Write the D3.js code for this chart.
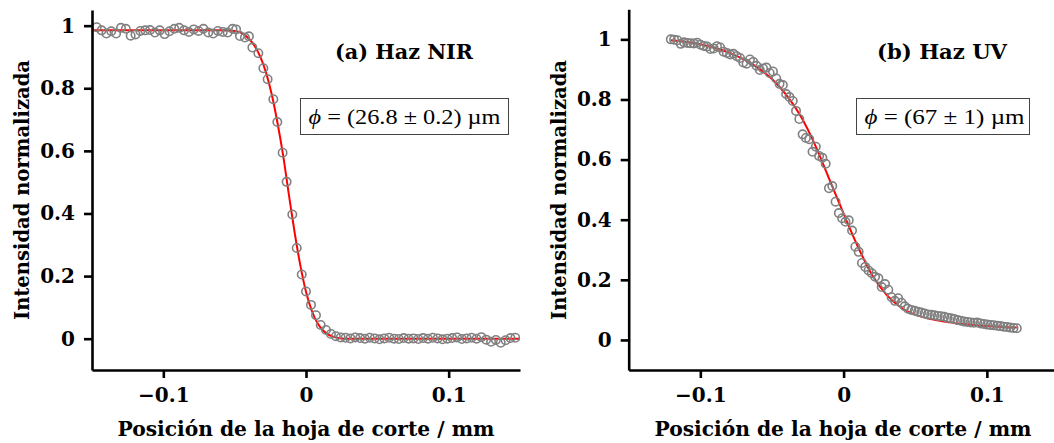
<!DOCTYPE html>
<html lang="es">
<head>
<meta charset="UTF-8">
<title>Perfil del haz - hoja de corte</title>
<script src="https://cdn.jsdelivr.net/npm/d3@7"></script>
<style>
  body { margin: 0; background: #fff; }
  svg { display: block; }
  .tick text, .axis-label, .panel-title {
    font-family: "DejaVu Serif", serif;
    font-weight: bold;
    fill: #000;
  }
</style>
</head>
<body>
<script>
// --- haz NIR (a) ---
const nirX = [
  -0.1467, -0.1433, -0.1399, -0.1365, -0.1331, -0.1297, -0.1263, -0.1229, -0.1195, -0.1161,
  -0.1127, -0.1093, -0.1059, -0.1025, -0.0991, -0.0957, -0.0923, -0.0889, -0.0855, -0.0821,
  -0.0787, -0.0753, -0.0719, -0.0685, -0.0651, -0.0617, -0.0583, -0.0549, -0.0515,
  -0.0490, -0.0463, -0.0428, -0.0400,
  -0.0376, -0.0334, -0.0299, -0.0269, -0.0229, -0.0201, -0.0164, -0.0136, -0.0096, -0.0065,
  -0.0030, 0.0000, 0.0035, 0.0070, 0.0103, 0.0140,
  0.0175, 0.0209, 0.0243, 0.0277, 0.0311, 0.0345, 0.0379, 0.0413, 0.0447, 0.0481,
  0.0515, 0.0549, 0.0583, 0.0617, 0.0651, 0.0685, 0.0719, 0.0753, 0.0787, 0.0821,
  0.0855, 0.0889, 0.0923, 0.0957, 0.0991, 0.1025, 0.1059, 0.1093, 0.1127, 0.1161,
  0.1195, 0.1229, 0.1263, 0.1297, 0.1331, 0.1365, 0.1399, 0.1433, 0.1467
];
const nirY = [
  0.995, 0.985, 0.975, 0.982, 0.975, 0.993, 0.990, 0.968, 0.972, 0.983,
  0.985, 0.986, 0.978, 0.985, 0.973, 0.982, 0.990, 0.993, 0.985, 0.980,
  0.988, 0.983, 0.990, 0.978, 0.975, 0.983, 0.980, 0.978, 0.990,
  0.988, 0.967, 0.962, 0.966,
  0.930, 0.912, 0.864, 0.829, 0.765, 0.692, 0.594, 0.501, 0.397, 0.290,
  0.205, 0.151, 0.108, 0.075, 0.044, 0.028,
  0.015, 0.008, 0.004, 0.003, 0.001, 0.004, 0.002, 0.000, 0.003, 0.001,
  -0.002, 0.001, 0.003, 0.000, -0.001, 0.002, 0.000, 0.001, -0.001, 0.002,
  0.000, 0.003, 0.001, -0.002, 0.000, 0.002, 0.004, -0.001, 0.001, 0.003,
  0.000, 0.005, -0.003, -0.010, -0.004, -0.013, -0.005, 0.002, 0.003
];
const nirFitX = [-0.15, -0.06, -0.05, -0.045, -0.04, -0.036, -0.032, -0.028, -0.024, -0.02,
  -0.016, -0.012, -0.008, -0.004, 0, 0.004, 0.008, 0.012, 0.016, 0.02, 0.025, 0.03, 0.15];
const nirFitY = [0.985, 0.985, 0.983, 0.976, 0.958, 0.935, 0.900, 0.850, 0.780, 0.690,
  0.585, 0.460, 0.340, 0.235, 0.150, 0.090, 0.050, 0.026, 0.012, 0.005, 0.001, 0.000, 0.000];

// --- haz UV (b) ---
const uvX = [
  -0.1206, -0.1183, -0.1160, -0.1137, -0.1114, -0.1091, -0.1068, -0.1045, -0.1022, -0.0999,
  -0.0976, -0.0953, -0.0930, -0.0907, -0.0884, -0.0861, -0.0838, -0.0815, -0.0792, -0.0769,
  -0.0746, -0.0723, -0.0700, -0.0677, -0.0654, -0.0631, -0.0608, -0.0585, -0.0562, -0.0539,
  -0.0516, -0.0493, -0.0470, -0.0447, -0.0424, -0.0401, -0.0378, -0.0355, -0.0332, -0.0309,
  -0.0286, -0.0263, -0.0240, -0.0217, -0.0194, -0.0171, -0.0148, -0.0125, -0.0102, -0.0079,
  -0.0056, -0.0033, -0.0010, 0.0013, 0.0036, 0.0059, 0.0082, 0.0105, 0.0128, 0.0151,
  0.0174, 0.0197, 0.0220, 0.0243, 0.0266, 0.0289, 0.0312, 0.0335, 0.0358, 0.0381,
  0.0404, 0.0427, 0.0450, 0.0473, 0.0496, 0.0519, 0.0542, 0.0565, 0.0588, 0.0611,
  0.0634, 0.0657, 0.0680, 0.0703, 0.0726, 0.0749, 0.0772, 0.0795, 0.0818, 0.0841,
  0.0864, 0.0887, 0.0910, 0.0933, 0.0956, 0.0979, 0.1002, 0.1025, 0.1048, 0.1071,
  0.1094, 0.1117, 0.1140, 0.1163, 0.1186, 0.1209
];
const uvY = [
  1.000, 0.999, 0.997, 0.985, 0.990, 0.988, 0.987, 0.986, 0.989, 0.982,
  0.978, 0.976, 0.968, 0.970, 0.977, 0.973, 0.959, 0.955, 0.950, 0.952,
  0.944, 0.938, 0.923, 0.919, 0.933, 0.925, 0.912, 0.898, 0.903, 0.906,
  0.888, 0.893, 0.870, 0.852, 0.848, 0.818, 0.808, 0.795, 0.762, 0.735,
  0.684, 0.672, 0.668, 0.626, 0.643, 0.612, 0.606, 0.586, 0.505, 0.512,
  0.460, 0.422, 0.405, 0.393, 0.398, 0.364, 0.310, 0.293, 0.256, 0.243,
  0.231, 0.222, 0.210, 0.205, 0.176, 0.186, 0.167, 0.142, 0.130, 0.139,
  0.124, 0.112, 0.104, 0.100, 0.097, 0.094, 0.091, 0.088, 0.085, 0.084,
  0.082, 0.080, 0.079, 0.077, 0.074, 0.072, 0.070, 0.066, 0.064, 0.061,
  0.060, 0.058, 0.057, 0.058, 0.055, 0.053, 0.051, 0.050, 0.049, 0.047,
  0.046, 0.044, 0.043, 0.041, 0.040, 0.039
];
const uvFitX = [-0.1206, -0.11, -0.10, -0.09, -0.08, -0.07, -0.06, -0.05, -0.04, -0.03,
  -0.02, -0.01, 0, 0.01, 0.02, 0.03, 0.04, 0.05, 0.06, 0.07, 0.08, 0.09, 0.10, 0.11, 0.1209];
const uvFitY = [0.997, 0.992, 0.984, 0.972, 0.956, 0.934, 0.906, 0.868, 0.815, 0.745,
  0.650, 0.535, 0.420, 0.310, 0.215, 0.150, 0.108, 0.084, 0.070, 0.061, 0.055, 0.050, 0.046, 0.043, 0.041];

const yTicks = [0, 0.2, 0.4, 0.6, 0.8, 1];
const yTickLabels = ["0", "0.2", "0.4", "0.6", "0.8", "1"];
const xTicks = [-0.1, 0, 0.1];
const xTickLabels = ["\u22120.1", "0", "0.1"];
const titles = ["(a) Haz NIR", "(b) Haz UV"];
const notes = ["(26.8 \u00b1 0.2) \u00b5m", "(67 \u00b1 1) \u00b5m"];
const xLabel = "Posición de la hoja de corte / mm";
const yLabel = "Intensidad normalizada";

const W = 1054, H = 443;
const svg = d3.select("body").append("svg").attr("width", W).attr("height", H);

const panels = [
  { id: "a", xs: nirX, ys: nirY, fx: nirFitX, fy: nirFitY,
    xr: [92, 520], yd: [-0.1, 1.05], yTop: 10, title: titles[0], note: notes[0],
    titleX: 335, titleW: 138, box: [300.5, 98.5, 208, 36], noteW: 192, yLabX: 29, xLabC: 306 },
  { id: "b", xs: uvX, ys: uvY, fx: uvFitX, fy: uvFitY,
    xr: [628.7, 1058.5], yd: [-0.1, 1.1], yTop: 9.3, title: titles[1], note: notes[1],
    titleX: 877, titleW: 130, box: [856.5, 98.5, 173, 36], noteW: 160, yLabX: 566, xLabC: 843 }
];

panels.forEach(p => {
  const x = d3.scaleLinear().domain([-0.15, 0.15]).range(p.xr);
  const y = d3.scaleLinear().domain(p.yd).range([370, p.yTop]);
  const g = svg.append("g");

  g.append("clipPath").attr("id", "clip-" + p.id)
    .append("rect").attr("x", p.xr[0]).attr("y", 0)
    .attr("width", Math.min(p.xr[1], W) - p.xr[0]).attr("height", 370);

  const plot = g.append("g").attr("clip-path", `url(#clip-${p.id})`);

  const fit = d3.range(p.fx.length).map(i => [p.fx[i], p.fy[i]]);
  plot.append("path")
    .datum(fit)
    .attr("fill", "none")
    .attr("stroke", "#ff0000")
    .attr("stroke-width", 2)
    .attr("d", d3.line().x(d => x(d[0])).y(d => y(d[1])).curve(d3.curveMonotoneX));

  const pts = d3.range(p.xs.length).map(i => [p.xs[i], p.ys[i]]);
  plot.selectAll("circle")
    .data(pts)
    .enter()
    .append("circle")
    .attr("cx", d => x(d[0]))
    .attr("cy", d => y(d[1]))
    .attr("r", 4.2)
    .attr("fill", "none")
    .attr("stroke", "#808080")
    .attr("stroke-width", 1.6);

  // ejes
  const yAxis = g.append("g")
    .attr("transform", `translate(${p.xr[0]},0)`)
    .call(d3.axisLeft(y).tickValues(yTicks).tickFormat((d, i) => yTickLabels[i])
      .tickSizeInner(8).tickSizeOuter(0).tickPadding(9));
  yAxis.selectAll("text").style("font-size", "20px");

  const xAxis = g.append("g")
    .attr("transform", "translate(0,370)")
    .call(d3.axisBottom(x).tickValues(xTicks).tickFormat((d, i) => xTickLabels[i])
      .tickSizeInner(8).tickSizeOuter(0).tickPadding(10));
  xAxis.selectAll("text").style("font-size", "20px");

  [yAxis, xAxis].forEach(a => {
    a.select(".domain").attr("stroke", "#000").attr("stroke-width", 2.6);
    a.selectAll(".tick line").attr("stroke", "#000").attr("stroke-width", 2.6);
  });

  g.append("text")
    .attr("class", "axis-label")
    .attr("x", p.xLabC)
    .attr("y", 436)
    .attr("text-anchor", "middle")
    .attr("textLength", 377)
    .attr("lengthAdjust", "spacingAndGlyphs")
    .style("font-size", "20px")
    .text(xLabel);

  g.append("text")
    .attr("class", "axis-label")
    .attr("transform", `translate(${p.yLabX},190) rotate(-90)`)
    .attr("text-anchor", "middle")
    .attr("textLength", 260)
    .attr("lengthAdjust", "spacingAndGlyphs")
    .style("font-size", "20px")
    .text(yLabel);

  g.append("text")
    .attr("class", "panel-title")
    .attr("x", p.titleX)
    .attr("y", 59)
    .attr("textLength", p.titleW)
    .attr("lengthAdjust", "spacingAndGlyphs")
    .style("font-size", "20px")
    .text(p.title);

  g.append("rect")
    .attr("x", p.box[0]).attr("y", p.box[1])
    .attr("width", p.box[2]).attr("height", p.box[3])
    .attr("fill", "#fff")
    .attr("stroke", "#444")
    .attr("stroke-width", 1);

  const note = g.append("text")
    .attr("x", p.box[0] + 8)
    .attr("y", 124)
    .attr("font-family", "'Liberation Serif', 'DejaVu Serif', serif")
    .attr("fill", "#000")
    .attr("textLength", p.noteW)
    .attr("lengthAdjust", "spacingAndGlyphs")
    .style("font-size", "21px");
  note.append("tspan").style("font-style", "italic").text("\u03d5");
  note.append("tspan").text(" = " + p.note);
});
</script>
</body>
</html>
